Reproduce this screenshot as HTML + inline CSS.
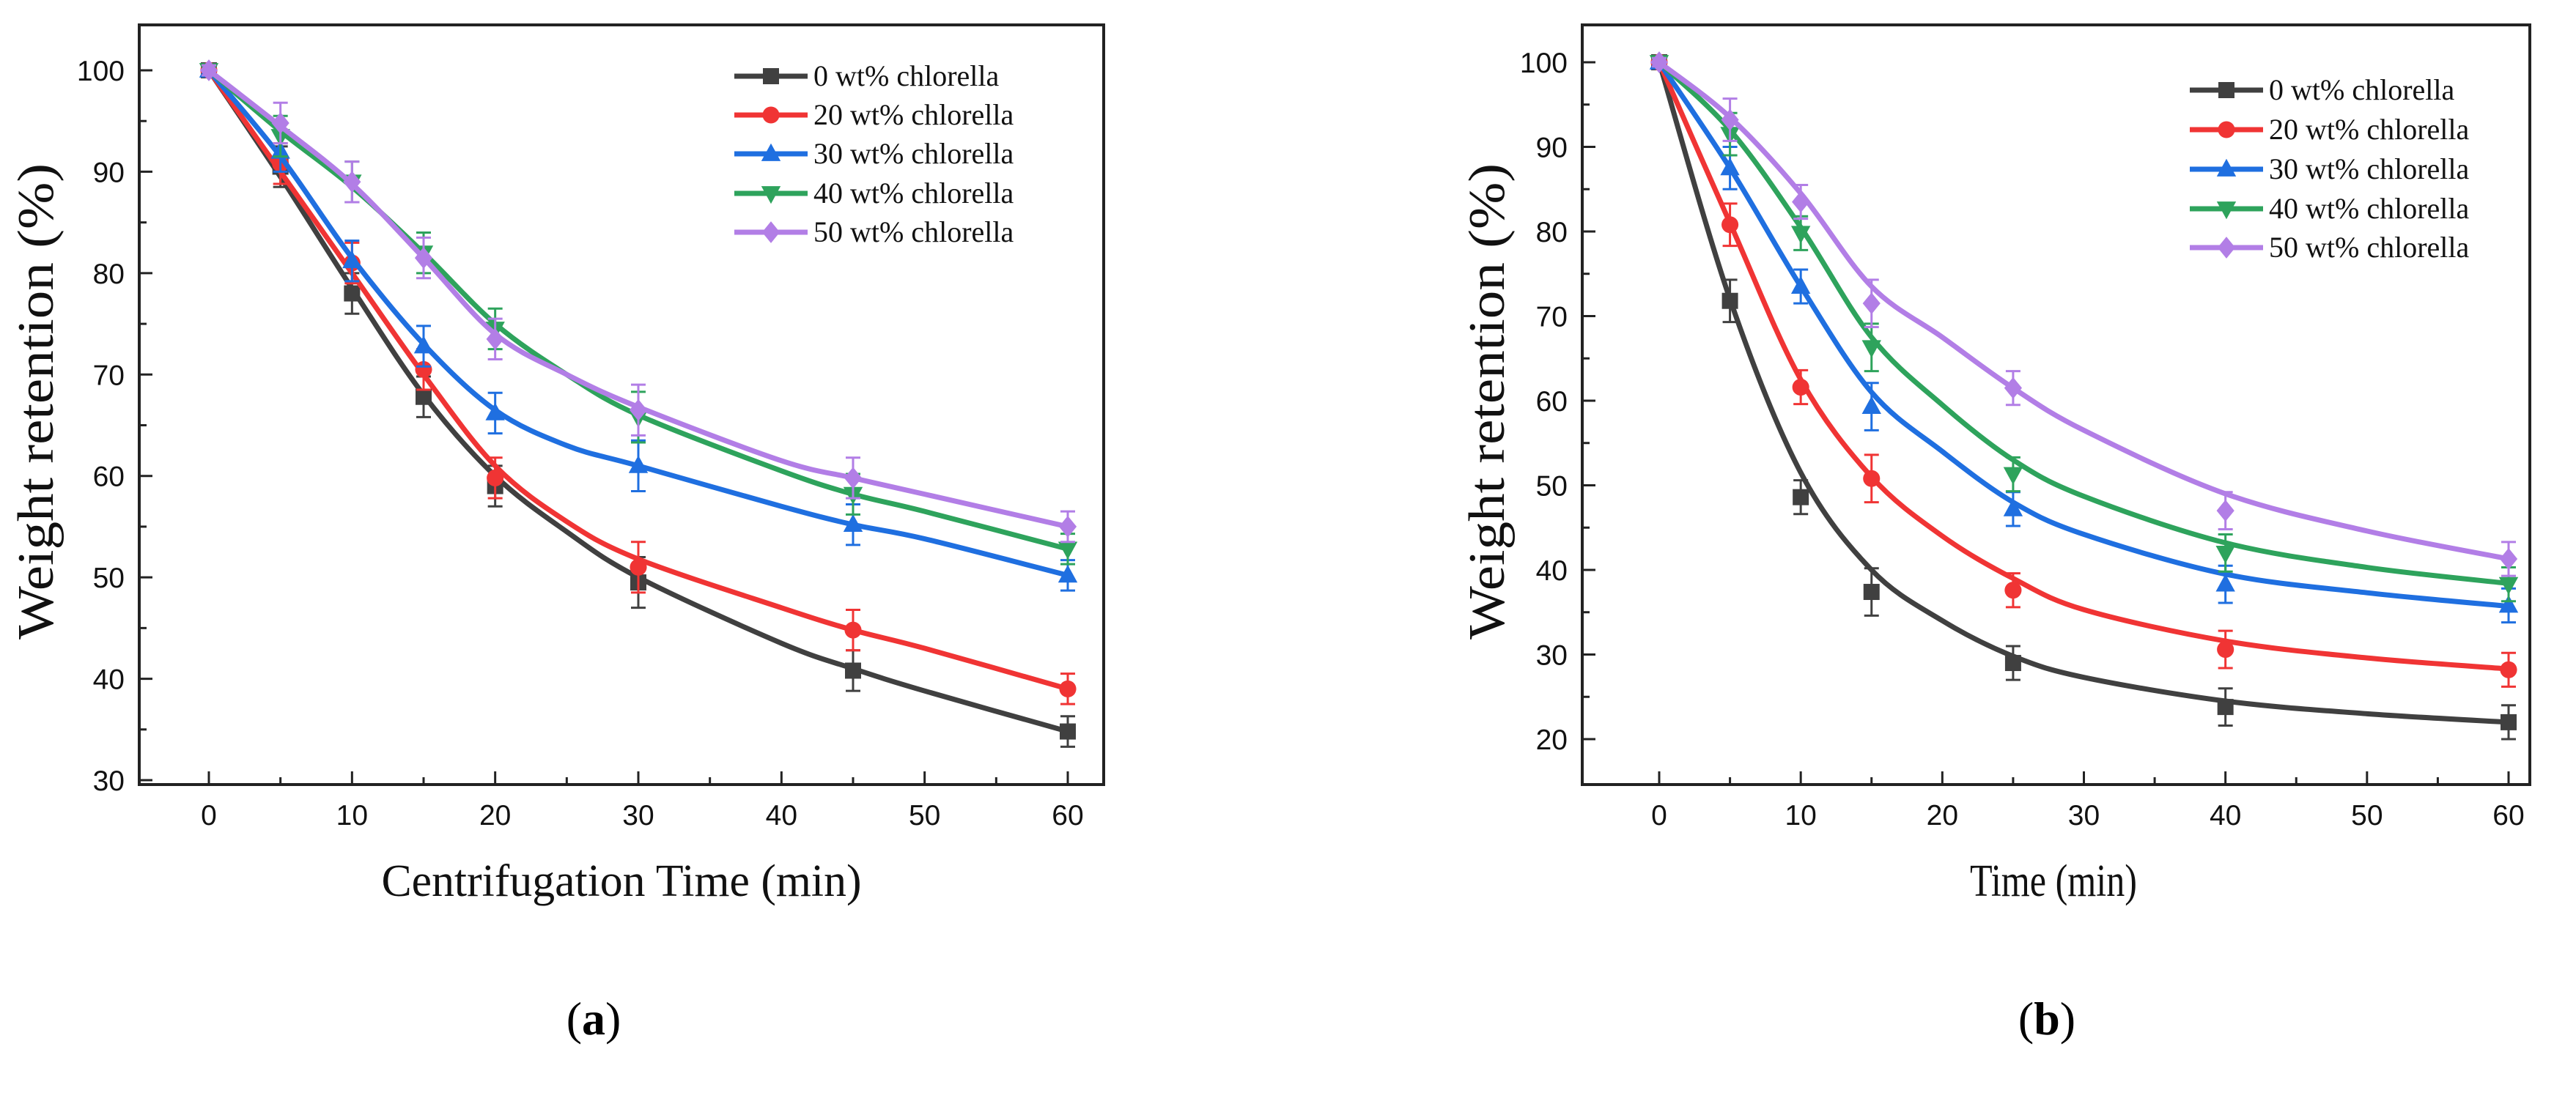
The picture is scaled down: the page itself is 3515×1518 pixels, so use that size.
<!DOCTYPE html>
<html><head><meta charset="utf-8"><style>
html,body{margin:0;padding:0;background:#fff;}
svg{display:block;}
</style></head><body>
<svg id="fig" width="3515" height="1518" viewBox="0 0 3515 1518" xmlns="http://www.w3.org/2000/svg">
<rect width="3515" height="1518" fill="#fff"/>
<g id="chartA"></g>
<g id="chartB"></g>
<text x="810" y="1412" font-family="Liberation Serif, serif" font-size="64" text-anchor="middle">(<tspan font-weight="bold">a</tspan>)</text>
<text x="2793" y="1412" font-family="Liberation Serif, serif" font-size="64" text-anchor="middle">(<tspan font-weight="bold">b</tspan>)</text>
</svg>
<script>
const seriesNames = ["0 wt% chlorella","20 wt% chlorella","30 wt% chlorella","40 wt% chlorella","50 wt% chlorella"];
const seriesColors = ["#404040","#f03434","#1f6fe0","#2ea35c","#b27ee6"];
const seriesMarkers = ["square","circle","up","down","diamond"];

const aPointX = [0,5,10,15,20,30,45,60];
const aPoints0 = [100,90.5,78,67.8,59,49.5,40.8,34.8];
const aPoints20 = [100,90.8,81,70.5,59.8,51,44.8,39];
const aPoints30 = [100,92,81.2,72.8,66.2,61,55.2,50.2];
const aPoints40 = [100,93.5,89,82,74.5,65.8,58.2,52.8];
const aPoints50 = [100,94.8,89,81.5,73.5,66.5,59.8,55];
const aErr = [0.5,2,2,2,2,2.5,2,1.5];
const aFitX = [0,5,10,15,20,25,30,40,45,50,60];
const aFit0 = [100,89.5,78.5,68,60,54.5,50,43.5,41,38.8,34.8];
const aFit20 = [100,90,80,70,61,55.5,51.8,47,44.8,43,39];
const aFit30 = [100,91.5,81.5,73,66.5,63,61,57,55.2,53.8,50.2];
const aFit40 = [100,94,88.5,82,75,70,66,60.5,58.2,56.5,52.8];
const aFit50 = [100,94.5,88.8,81.5,74,70,66.8,61.5,59.8,58.2,55];
const aYTicks = [30,40,50,60,70,80,90,100];
const aXTicks = [0,10,20,30,40,50,60];

const bPointX = [0,5,10,15,25,40,60];
const bPoints0 = [100,71.8,48.6,37.4,29,23.8,22];
const bPoints20 = [100,80.8,61.6,50.8,37.6,30.6,28.2];
const bPoints30 = [100,87.5,73.5,59.3,47.2,38.3,35.8];
const bPoints40 = [100,91.5,79.8,66.3,51.3,42,38.3];
const bPoints50 = [100,93.2,83.5,71.5,61.5,47,41.3];
const bErr = [0.5,2.5,2,2.8,2,2.2,2];
const bFitX = [0,5,10,15,20,25,30,40,50,60];
const bFit0 = [100,72,51.5,40,34,29.8,27.3,24.5,23,22];
const bFit20 = [100,81,62.5,51,44,39,35.3,31.6,29.6,28.3];
const bFit30 = [100,87.5,73.5,61,54,48,44.2,39.5,37.3,35.7];
const bFit40 = [100,92,80.5,67.5,59.5,53,48.7,43.2,40.3,38.4];
const bFit50 = [100,93.5,84.5,73.5,67.5,61.5,56.5,49,44.6,41.3];
const bYTicks = [20,30,40,50,60,70,80,90,100];
const bXTicks = [0,10,20,30,40,50,60];

const NS = "http://www.w3.org/2000/svg";
function mk(parent, tag, attrs){ const e=document.createElementNS(NS,tag); for(const k in attrs) e.setAttribute(k,attrs[k]); parent.appendChild(e); return e; }

function smoothPath(pts){
  let d = "M"+pts[0][0]+","+pts[0][1];
  for(let i=0;i<pts.length-1;i++){
    const p0=pts[i-1]||pts[i], p1=pts[i], p2=pts[i+1], p3=pts[i+2]||p2;
    const c1x=p1[0]+(p2[0]-p0[0])/6, c1y=p1[1]+(p2[1]-p0[1])/6;
    const c2x=p2[0]-(p3[0]-p1[0])/6, c2y=p2[1]-(p3[1]-p1[1])/6;
    d+=" C"+c1x+","+c1y+" "+c2x+","+c2y+" "+p2[0]+","+p2[1];
  }
  return d;
}
function marker(g, type, x, y, s, color){
  let el;
  if(type==="square") el=mk(g,"rect",{x:x-s,y:y-s,width:2*s,height:2*s,fill:color});
  else if(type==="circle") el=mk(g,"circle",{cx:x,cy:y,r:s*1.05,fill:color});
  else if(type==="up") el=mk(g,"polygon",{points:`${x},${y-s*1.3} ${x-s*1.2},${y+s*0.9} ${x+s*1.2},${y+s*0.9}`,fill:color});
  else if(type==="down") el=mk(g,"polygon",{points:`${x},${y+s*1.3} ${x-s*1.2},${y-s*0.9} ${x+s*1.2},${y-s*0.9}`,fill:color});
  else el=mk(g,"polygon",{points:`${x},${y-s*1.35} ${x+s*1.1},${y} ${x},${y+s*1.35} ${x-s*1.1},${y}`,fill:color});
  return el;
}

function drawChart(g, cfg){
  const {box,x0px,x60px,yTopVal,yTopPx,yBotVal,yBotPx} = cfg;
  const X = v => x0px + (x60px-x0px)*v/60;
  const Y = v => yBotPx + (yTopPx-yBotPx)*(v-yBotVal)/(yTopVal-yBotVal);
  const font = "Liberation Sans, Arial, sans-serif";
  cfg.yTicks.forEach((t,i)=>{
    const tk=mk(g,"line",{x1:box.l,x2:box.l+18,y1:Y(t),y2:Y(t),stroke:"#222","stroke-width":3});
    
    
    if(i<cfg.yTicks.length-1){
      const mt=mk(g,"line",{x1:box.l,x2:box.l+10,y1:Y(t+5),y2:Y(t+5),stroke:"#222","stroke-width":3});
      
      
    }
    const lb=mk(g,"text",{x:box.l-20,y:Y(t)+14,"font-family":font,"font-size":39,"text-anchor":"end",fill:"#111"});
    lb.textContent=t;
    
    
  });
  cfg.xTicks.forEach(t=>{
    const tk=mk(g,"line",{x1:X(t),x2:X(t),y1:box.b,y2:box.b-18,stroke:"#222","stroke-width":3});
    
    
    if(t<60){
      const mt=mk(g,"line",{x1:X(t+5),x2:X(t+5),y1:box.b,y2:box.b-10,stroke:"#222","stroke-width":3});
      
      
    }
    const lb=mk(g,"text",{x:X(t),y:box.b+55,"font-family":font,"font-size":39,"text-anchor":"middle",fill:"#111"});
    lb.textContent=t;
    
    
  });
  const frame=mk(g,"rect",{x:box.l,y:box.t,width:box.r-box.l,height:box.b-box.t,fill:"none",stroke:"#222","stroke-width":4});
  
  
  const xt=mk(g,"text",{x:cfg.xTitleX,y:box.b+152,"font-family":"Liberation Serif, serif","font-size":62,"text-anchor":"middle",fill:"#111",textLength:cfg.xTitleLen,lengthAdjust:"spacingAndGlyphs"});
  xt.textContent=cfg.xTitle;
  
  
  const yt=mk(g,"text",{x:0,y:0,"font-family":"Liberation Serif, serif","font-size":70,"text-anchor":"middle",fill:"#111",textLength:650,lengthAdjust:"spacingAndGlyphs",transform:`translate(${cfg.yTitleX},${cfg.yTitleY}) rotate(-90)`});
  yt.textContent="Weight retention (%)";
  
  
  for(let s=0;s<5;s++){
    const sg=mk(g,"g",{});
    
    
    const fit=cfg.fits[s];
    const path=mk(sg,"path",{d:smoothPath(cfg.fitX.map((x,i)=>[X(x),Y(fit[i])])),fill:"none",stroke:seriesColors[s],"stroke-width":7,"stroke-linejoin":"round"});
    
    
    const pts=cfg.points[s];
    cfg.pointX.forEach((x,i)=>{
      const e=cfg.err[i], px=X(x);
      const eb=mk(sg,"path",{d:`M${px},${Y(pts[i]+e)}V${Y(pts[i]-e)}M${px-10},${Y(pts[i]+e)}h20M${px-10},${Y(pts[i]-e)}h20`,stroke:seriesColors[s],"stroke-width":3,fill:"none"});
      
      
      const m=marker(sg,seriesMarkers[s],px,Y(pts[i]),11,seriesColors[s]);
      
      
    });
  }
  cfg.legendY.forEach((ly,s)=>{
    const lg=mk(g,"g",{});
    
    
    mk(lg,"line",{x1:cfg.legendX,x2:cfg.legendX+100,y1:ly,y2:ly,stroke:seriesColors[s],"stroke-width":7});
    marker(lg,seriesMarkers[s],cfg.legendX+50,ly,11,seriesColors[s]);
    const t=mk(lg,"text",{x:cfg.legendX+108,y:ly+13,"font-family":"Liberation Serif, serif","font-size":40,fill:"#111"});
    t.textContent=seriesNames[s];
  });
}

drawChart(document.getElementById("chartA"),{
  box:{l:190,r:1506,t:34,b:1071}, x0px:285, x60px:1457, yTopVal:100, yTopPx:96, yBotVal:30, yBotPx:1065,
  yTicks:aYTicks, xTicks:aXTicks, xTitle:"Centrifugation Time (min)", xTitleX:848, xTitleLen:655, yTitleX:72, yTitleY:548,
  pointX:aPointX, points:[aPoints0,aPoints20,aPoints30,aPoints40,aPoints50], err:aErr,
  fitX:aFitX, fits:[aFit0,aFit20,aFit30,aFit40,aFit50],
  legendX:1002, legendY:[104,157,210,264,317]
});
drawChart(document.getElementById("chartB"),{
  box:{l:2159,r:3452,t:34,b:1071}, x0px:2264, x60px:3423, yTopVal:100, yTopPx:85, yBotVal:20, yBotPx:1009,
  yTicks:bYTicks, xTicks:bXTicks, xTitle:"Time (min)", xTitleX:2802, xTitleLen:228, yTitleX:2052, yTitleY:548,
  pointX:bPointX, points:[bPoints0,bPoints20,bPoints30,bPoints40,bPoints50], err:bErr,
  fitX:bFitX, fits:[bFit0,bFit20,bFit30,bFit40,bFit50],
  legendX:2988, legendY:[123,177,231,285,338]
});
</script>
</body></html>
